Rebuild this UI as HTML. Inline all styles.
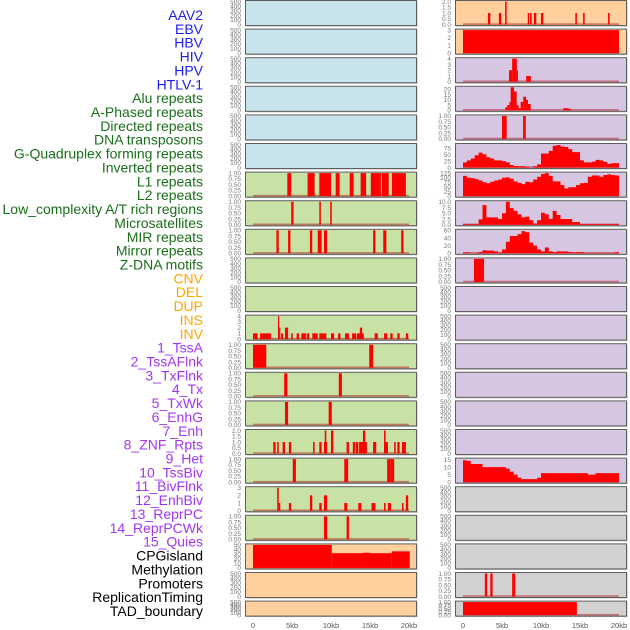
<!DOCTYPE html>
<html><head><meta charset="utf-8">
<style>
html,body{margin:0;padding:0;background:#fff;}
svg{display:block;font-family:"Liberation Sans",sans-serif;}
</style></head>
<body>
<svg id="chart" width="630" height="630" viewBox="0 0 630 630"></svg>
<script>
// ---------- labels ----------
const trackLabels = ["AAV2","EBV","HBV","HIV","HPV","HTLV-1","Alu repeats","A-Phased repeats","Directed repeats","DNA transposons","G-Quadruplex forming repeats","Inverted repeats","L1 repeats","L2 repeats","Low_complexity A/T rich regions","Microsatellites","MIR repeats","Mirror repeats","Z-DNA motifs","CNV","DEL","DUP","INS","INV","1_TssA","2_TssAFlnk","3_TxFlnk","4_Tx","5_TxWk","6_EnhG","7_Enh","8_ZNF_Rpts","9_Het","10_TssBiv","11_BivFlnk","12_EnhBiv","13_ReprPC","14_ReprPCWk","15_Quies","CPGisland","Methylation","Promoters","ReplicationTiming","TAD_boundary"];
const labelGroups = [6,13,5,15,5];
const groupColors = ["#1c1cf0","#1a6e1a","#ffa500","#a236f0","#000000"];

// ---------- tick label sets ----------
const ticksEmpty = ["0","100","200","300","400","500"];
const ticksUnit = ["0.00","0.25","0.50","0.75","1.00"];
const ticks4 = ["0","1","2","3","4"];
const ticks3 = ["0","1","2","3"];
const ticks2 = ["0.0","0.5","1.0","1.5","2.0"];
const ticksCpg = ["0","10","20","30","40","50"];
const ticks20 = ["0","5","10","15","20"];
const ticks75 = ["0","25","50","75"];
const ticks125 = ["0","25","50","75","100","125"];
const ticks10 = ["0.0","2.5","5.0","7.5","10.0"];
const ticks60 = ["0","20","40","60"];
const ticks15 = ["0","5","10","15"];
const xTickLabels = ["0","5kb","10kb","15kb","20kb"];
const xTickValues = [0,5,10,15,20];

// ---------- data: segments [startKb, endKb, value] ----------
const L7 = [[4.4,4.9,1],[7.0,7.9,1],[8.5,10.0,1],[10.6,11.1,1],[12.4,12.9,1],[13.8,14.5,1],[15.1,16.4,1],[16.5,17.4,1],[17.8,19.6,1]];
const L8 = [[4.9,5.2,1],[8.5,8.7,1],[9.9,10.1,1]];
const L9 = [[3.0,3.3,1],[4.5,4.8,1],[7.3,7.6,1],[8.3,8.8,1],[9.1,9.5,1],[15.4,15.7,1],[16.7,17.1,1],[19.0,19.3,1]];
const L12 = [[0,0.6,1],[0.9,2.3,1],[3.2,3.35,4],[3.35,3.5,2],[3.6,3.85,1],[4.1,4.5,2],[4.9,5.1,1],[5.6,5.9,1],[6.2,6.8,1],[6.9,7.2,1],[7.6,8.3,1],[8.5,9.4,1],[10.0,10.4,1],[10.9,11.2,1],[11.8,12.3,1],[12.7,13.2,1],[13.3,14.2,1],[13.7,14.0,2],[15.6,16.0,1],[16.8,17.2,1],[17.6,17.9,1],[18.5,18.8,1],[19.6,19.9,1]];
const L13 = [[0,1.7,1],[14.9,15.4,1]];
const L14 = [[4.0,4.4,1],[11.0,11.4,1]];
const L15 = [[4.1,4.5,1],[9.7,10.1,1]];
const L16 = [[2.6,2.9,1],[3.1,3.3,1],[3.8,4.1,1],[4.6,4.9,1],[7.7,7.9,1],[8.5,8.8,1],[9.1,9.5,1],[9.2,9.4,2],[10.0,10.3,2],[12.0,12.3,1],[12.8,13.1,1],[13.2,13.5,1],[13.6,14.6,1],[14.1,14.4,2],[15.4,15.8,1],[16.8,17.3,1],[16.8,17.0,2],[18.1,18.3,1],[18.5,18.8,1],[19.1,19.6,1]];
const L17 = [[5.1,5.5,1],[11.7,12.2,1],[17.2,17.6,1],[17.6,18.1,1]];
const L18 = [[3.1,3.3,3],[3.3,3.5,1],[4.6,4.9,1],[7.3,7.6,2],[8.5,8.8,1],[9.1,9.5,2],[11.7,12.1,1],[13.5,13.9,1],[15.2,15.7,1],[16.8,17.0,1],[17.3,17.7,1],[19.1,19.3,1],[19.6,19.9,2]];
const L19 = [[9.1,9.5,1],[12.0,12.3,1]];
const L20 = [[0,10.1,50],[10.1,14.1,32],[14.1,15.0,33],[15.0,17.8,32],[17.8,20.1,36]];

const R1 = [[3.2,3.5,1],[4.6,4.9,1],[5.4,5.6,2],[8.3,8.5,1],[8.6,8.8,1],[9.1,9.4,1],[10.0,10.3,1],[14.4,14.6,1],[15.4,15.6,1],[18.6,18.8,1]];
const R2 = [[0,20,3]];
const R3 = [[5.9,6.3,2],[6.3,6.9,4],[6.9,7.05,2],[8.1,8.7,1]];
const R4 = [[5.43,5.68,3],[5.68,5.94,5],[5.94,6.11,8],[6.11,6.54,22],[6.54,6.88,18],[6.88,7.14,5],[7.14,7.39,2],[7.39,7.73,8],[7.73,8.08,13],[8.08,8.33,10],[8.33,8.68,6],[12.86,13.5,2],[13.5,13.8,1.5]];
const R5 = [[5.0,5.6,1],[7.7,8.05,1]];
const R10 = [[1.4,2.7,1]];
const R21 = [[2.8,3.1,1],[3.5,3.8,1],[6.3,6.7,1]];
const R22 = [[0,14.6,1]];
// ---------- data: 0.5kb bins ----------
const R6 = [20,28,35,48,58,52,40,35,28,28,25,20,10,6,5,5,3,0,5,12,55,55,65,85,88,82,80,72,60,60,28,20,20,23,30,28,22,14,17,17];
const R7 = [110,100,98,92,85,75,70,78,85,90,100,102,95,80,72,65,78,75,90,105,120,125,110,80,80,60,42,48,48,60,70,72,105,112,112,105,115,118,115,112];
const R8 = [0.3,0.3,0.3,0.3,2.3,8.5,3.2,3.2,3.2,2.5,5.0,10.0,7.2,6.0,4.5,3.2,3.5,2.0,0.5,2.0,5.2,4.5,2.5,6.0,4.2,2.5,2.5,2.5,1.2,1.2,0.3,0.3,0.3,0.3,0.3,0.3,0.3,0.3,0.3,0.3];
const R9 = [2,2,0,1,3,8,7,7,5,2,10,30,45,45,50,58,55,28,20,10,5,15,5,3,5,5,5,3,2,3,3,1,1,1,1,1,1,1,1,3];
const R17 = [14.5,14,12,12,12,10,10,10,10,10,10,9,7,5,3,2,2,2,2,3,6,6,6,6,6,6,6,6,6,6,6,6,5,5,6,6,6,6,6,6];

// ---------- colours ----------
const BG = {blue:"#c8e3ec", green:"#c8e1a4", orange:"#ffd09e", purple:"#d6c6e2", gray:"#d1d1d1"};

// panel specs: [bg, ticks, ymax, segs, bins]
const leftPanels = [
 ["blue",ticksEmpty,500,null,null],["blue",ticksEmpty,500,null,null],["blue",ticksEmpty,500,null,null],
 ["blue",ticksEmpty,500,null,null],["blue",ticksEmpty,500,null,null],["blue",ticksEmpty,500,null,null],
 ["green",ticksUnit,1,L7,null],["green",ticksUnit,1,L8,null],["green",ticksUnit,1,L9,null],
 ["green",ticksEmpty,500,null,null],["green",ticksEmpty,500,null,null],["green",ticks4,4,L12,null],
 ["green",ticksUnit,1,L13,null],["green",ticksUnit,1,L14,null],["green",ticksUnit,1,L15,null],
 ["green",ticks2,2,L16,null],["green",ticksUnit,1,L17,null],["green",ticks3,3,L18,null],
 ["green",ticksUnit,1,L19,null],["orange",ticksCpg,50,L20,null],["orange",ticksEmpty,500,null,null],
 ["orange",ticksEmpty,500,null,null]
];
const rightPanels = [
 ["orange",ticks2,2,R1,null],["orange",ticks3,3,R2,null],["purple",ticks4,4,R3,null],
 ["purple",ticks20,22,R4,null],["purple",ticksUnit,1,R5,null],["purple",ticks75,90,null,R6],
 ["purple",ticks125,125,null,R7],["purple",ticks10,10,null,R8],["purple",ticks60,60,null,R9],
 ["purple",ticksUnit,1,R10,null],["purple",ticksEmpty,500,null,null],["purple",ticksEmpty,500,null,null],
 ["purple",ticksEmpty,500,null,null],["purple",ticksEmpty,500,null,null],["purple",ticksEmpty,500,null,null],
 ["purple",ticksEmpty,500,null,null],["purple",ticks15,15.3,null,R17],["gray",ticksEmpty,500,null,null],
 ["gray",ticksEmpty,500,null,null],["gray",ticksEmpty,500,null,null],["gray",ticksUnit,1,R21,null],
 ["gray",ticksUnit,1,R22,null]
];

const NS = "http://www.w3.org/2000/svg";
const svg = document.getElementById("chart");
function mk(tag, attrs, parent){
  const e = document.createElementNS(NS, tag);
  for (const k in attrs) e.setAttribute(k, attrs[k]);
  (parent||svg).appendChild(e);
  return e;
}

// track labels
let gi = 0, cnt = 0;
trackLabels.forEach((lab, i) => {
  while (cnt >= labelGroups[gi]) { cnt = 0; gi++; }
  cnt++;
  const t = mk("text", {x:203, y:15 + i*13.86 + 5, "text-anchor":"end", "font-size":"14", fill:groupColors[gi]});
  t.textContent = lab;
  
  
});

function drawColumn(panels, x0, x1, zeroX, kbPx, tickX, colName){
  panels.forEach((p, i) => {
    const [bg, ticks, ymax, segs, bins] = p;
    const top = 0.5 + i*28.6;
    const h = (i === 21) ? 15 : 25;
    const bottom = top + h;
    const g = mk("g", {});
    
    
    mk("rect", {x:x0+1, y:top+1, width:x1-x0, height:h, fill:"#b8b8b8"}, g);
    mk("rect", {x:x0, y:top, width:x1-x0, height:h, fill:BG[bg], stroke:"#5e5e5e", "stroke-width":"1"}, g);
    const yOf = v => (bottom-1) - Math.min(v, ymax)/ymax*(h-2);
    const xOf = kb => zeroX + kb*kbPx;
    // y ticks
    ticks.forEach((tl, k) => {
      const v = k/(ticks.length-1)*parseFloat(ticks[ticks.length-1]);
      const t = mk("text", {x:tickX, y:yOf(v)+2.3, "text-anchor":"end", "font-size":"6.5", fill:"#777"}, g);
      t.textContent = tl;
      
      
    });
    const hasData = segs || bins;
    if (hasData) {
      mk("rect", {x:xOf(0), y:bottom-2.2, width:xOf(20)-xOf(0), height:1.6, fill:"rgba(170,0,0,0.45)"}, g);
    }
    if (segs) {
      segs.forEach(s => {
        const r = mk("rect", {x:xOf(s[0]), y:yOf(s[2]), width:Math.max(1, xOf(s[1])-xOf(s[0])), height:(bottom-1)-yOf(s[2]), fill:"#ff0000"}, g);
        
        
      });
    }
    if (bins) {
      let d = "M" + xOf(0) + "," + (bottom-1);
      bins.forEach((v, k) => {
        d += " L" + xOf(k*0.5) + "," + yOf(v) + " L" + xOf((k+1)*0.5) + "," + yOf(v);
      });
      d += " L" + xOf(bins.length*0.5) + "," + (bottom-1) + " Z";
      const a = mk("path", {d:d, fill:"#ff0000"}, g);
      
      
    }
  });
  // x axis labels
  xTickValues.forEach((v, k) => {
    const t = mk("text", {x:zeroX + v*kbPx, y:628, "text-anchor":"middle", "font-size":"7.5", fill:"#555"});
    t.textContent = xTickLabels[k];
    
    
  });
}

drawColumn(leftPanels, 245.5, 416.5, 253, 7.8, 241, "left");
drawColumn(rightPanels, 455.5, 626.5, 463, 7.8, 451, "right");
</script>
</body></html>
